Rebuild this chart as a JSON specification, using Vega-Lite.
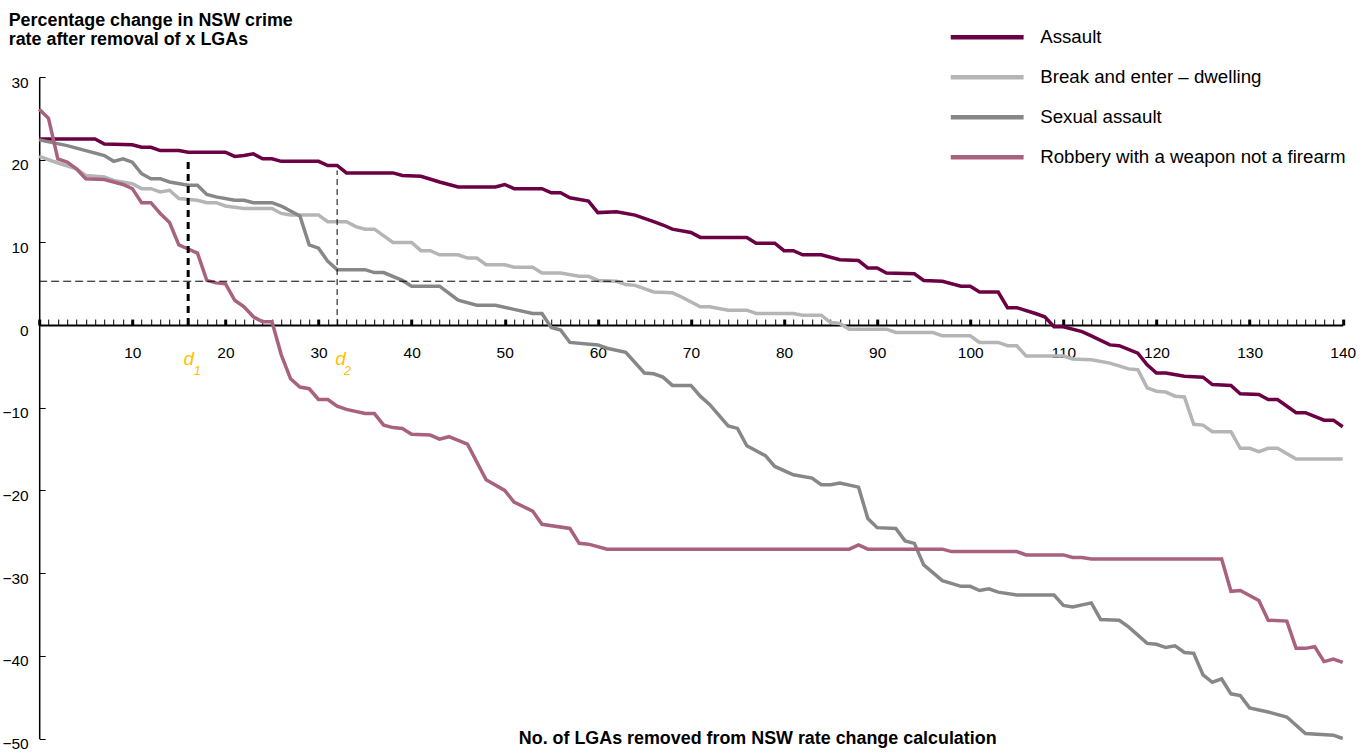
{
  "$schema": "https://vega.github.io/schema/vega-lite/v6.json",
  "width": 1303.5,
  "height": 661.5,
  "autosize": "none",
  "padding": {"left": 39.2, "top": 77, "right": 24, "bottom": 14},
  "background": "white",
  "config": {"view": {"stroke": null}, "font": "Liberation Sans"},
  "datasets": {
    "lines": [
      {"series":"Assault","x":0,"y":22.5},{"series":"Assault","x":6,"y":22.5},{"series":"Assault","x":7,"y":21.9},{"series":"Assault","x":10,"y":21.8},{"series":"Assault","x":11,"y":21.5},{"series":"Assault","x":12,"y":21.5},{"series":"Assault","x":13,"y":21.1},{"series":"Assault","x":15,"y":21.1},{"series":"Assault","x":16,"y":20.9},{"series":"Assault","x":20,"y":20.9},{"series":"Assault","x":21,"y":20.4},{"series":"Assault","x":22,"y":20.5},{"series":"Assault","x":23,"y":20.7},{"series":"Assault","x":24,"y":20.1},{"series":"Assault","x":25,"y":20.1},{"series":"Assault","x":26,"y":19.8},{"series":"Assault","x":30,"y":19.8},{"series":"Assault","x":31,"y":19.3},{"series":"Assault","x":32,"y":19.3},{"series":"Assault","x":33,"y":18.4},{"series":"Assault","x":38,"y":18.4},{"series":"Assault","x":39,"y":18.1},{"series":"Assault","x":41,"y":18.0},{"series":"Assault","x":43,"y":17.3},{"series":"Assault","x":45,"y":16.7},{"series":"Assault","x":49,"y":16.7},{"series":"Assault","x":50,"y":17.0},{"series":"Assault","x":51,"y":16.5},{"series":"Assault","x":54,"y":16.5},{"series":"Assault","x":55,"y":16.0},{"series":"Assault","x":56,"y":16.0},{"series":"Assault","x":57,"y":15.4},{"series":"Assault","x":59,"y":15.0},{"series":"Assault","x":60,"y":13.6},{"series":"Assault","x":62,"y":13.7},{"series":"Assault","x":64,"y":13.3},{"series":"Assault","x":66,"y":12.5},{"series":"Assault","x":67,"y":12.1},{"series":"Assault","x":68,"y":11.6},{"series":"Assault","x":70,"y":11.2},{"series":"Assault","x":71,"y":10.6},{"series":"Assault","x":76,"y":10.6},{"series":"Assault","x":77,"y":9.9},{"series":"Assault","x":79,"y":9.9},{"series":"Assault","x":80,"y":9.0},{"series":"Assault","x":81,"y":9.0},{"series":"Assault","x":82,"y":8.5},{"series":"Assault","x":84,"y":8.5},{"series":"Assault","x":86,"y":7.9},{"series":"Assault","x":88,"y":7.8},{"series":"Assault","x":89,"y":6.9},{"series":"Assault","x":90,"y":6.9},{"series":"Assault","x":91,"y":6.3},{"series":"Assault","x":94,"y":6.2},{"series":"Assault","x":95,"y":5.4},{"series":"Assault","x":97,"y":5.3},{"series":"Assault","x":99,"y":4.7},{"series":"Assault","x":100,"y":4.7},{"series":"Assault","x":101,"y":4.0},{"series":"Assault","x":103,"y":4.0},{"series":"Assault","x":104,"y":2.1},{"series":"Assault","x":105,"y":2.1},{"series":"Assault","x":107,"y":1.4},{"series":"Assault","x":108,"y":1.0},{"series":"Assault","x":109,"y":-0.2},{"series":"Assault","x":110,"y":-0.2},{"series":"Assault","x":112,"y":-0.8},{"series":"Assault","x":113,"y":-1.3},{"series":"Assault","x":115,"y":-2.4},{"series":"Assault","x":116,"y":-2.5},{"series":"Assault","x":118,"y":-3.4},{"series":"Assault","x":119,"y":-4.8},{"series":"Assault","x":120,"y":-5.8},{"series":"Assault","x":121,"y":-5.8},{"series":"Assault","x":123,"y":-6.2},{"series":"Assault","x":125,"y":-6.3},{"series":"Assault","x":126,"y":-7.2},{"series":"Assault","x":128,"y":-7.3},{"series":"Assault","x":129,"y":-8.3},{"series":"Assault","x":131,"y":-8.4},{"series":"Assault","x":132,"y":-9.0},{"series":"Assault","x":133,"y":-9.0},{"series":"Assault","x":135,"y":-10.6},{"series":"Assault","x":136,"y":-10.6},{"series":"Assault","x":138,"y":-11.5},{"series":"Assault","x":139,"y":-11.5},{"series":"Assault","x":140,"y":-12.3},

      {"series":"Break and enter – dwelling","x":0,"y":20.4},{"series":"Break and enter – dwelling","x":2,"y":19.6},{"series":"Break and enter – dwelling","x":4,"y":18.9},{"series":"Break and enter – dwelling","x":5,"y":18.1},{"series":"Break and enter – dwelling","x":7,"y":17.9},{"series":"Break and enter – dwelling","x":8,"y":17.5},{"series":"Break and enter – dwelling","x":10,"y":17.1},{"series":"Break and enter – dwelling","x":11,"y":16.5},{"series":"Break and enter – dwelling","x":12,"y":16.5},{"series":"Break and enter – dwelling","x":13,"y":16.1},{"series":"Break and enter – dwelling","x":14,"y":16.3},{"series":"Break and enter – dwelling","x":15,"y":15.3},{"series":"Break and enter – dwelling","x":17,"y":15.1},{"series":"Break and enter – dwelling","x":18,"y":14.8},{"series":"Break and enter – dwelling","x":19,"y":14.8},{"series":"Break and enter – dwelling","x":20,"y":14.4},{"series":"Break and enter – dwelling","x":22,"y":14.1},{"series":"Break and enter – dwelling","x":25,"y":14.1},{"series":"Break and enter – dwelling","x":26,"y":13.5},{"series":"Break and enter – dwelling","x":27,"y":13.3},{"series":"Break and enter – dwelling","x":30,"y":13.3},{"series":"Break and enter – dwelling","x":31,"y":12.5},{"series":"Break and enter – dwelling","x":33,"y":12.5},{"series":"Break and enter – dwelling","x":34,"y":11.9},{"series":"Break and enter – dwelling","x":35,"y":11.6},{"series":"Break and enter – dwelling","x":36,"y":11.6},{"series":"Break and enter – dwelling","x":38,"y":10.0},{"series":"Break and enter – dwelling","x":40,"y":10.0},{"series":"Break and enter – dwelling","x":41,"y":9.0},{"series":"Break and enter – dwelling","x":42,"y":9.0},{"series":"Break and enter – dwelling","x":43,"y":8.5},{"series":"Break and enter – dwelling","x":45,"y":8.5},{"series":"Break and enter – dwelling","x":46,"y":8.1},{"series":"Break and enter – dwelling","x":47,"y":8.1},{"series":"Break and enter – dwelling","x":48,"y":7.3},{"series":"Break and enter – dwelling","x":50,"y":7.3},{"series":"Break and enter – dwelling","x":51,"y":7.0},{"series":"Break and enter – dwelling","x":53,"y":7.0},{"series":"Break and enter – dwelling","x":54,"y":6.3},{"series":"Break and enter – dwelling","x":56,"y":6.3},{"series":"Break and enter – dwelling","x":58,"y":5.9},{"series":"Break and enter – dwelling","x":59,"y":5.9},{"series":"Break and enter – dwelling","x":60,"y":5.4},{"series":"Break and enter – dwelling","x":62,"y":5.3},{"series":"Break and enter – dwelling","x":63,"y":4.9},{"series":"Break and enter – dwelling","x":64,"y":4.8},{"series":"Break and enter – dwelling","x":66,"y":4.0},{"series":"Break and enter – dwelling","x":68,"y":3.9},{"series":"Break and enter – dwelling","x":69,"y":3.4},{"series":"Break and enter – dwelling","x":71,"y":2.2},{"series":"Break and enter – dwelling","x":72,"y":2.2},{"series":"Break and enter – dwelling","x":74,"y":1.8},{"series":"Break and enter – dwelling","x":76,"y":1.8},{"series":"Break and enter – dwelling","x":77,"y":1.4},{"series":"Break and enter – dwelling","x":81,"y":1.4},{"series":"Break and enter – dwelling","x":82,"y":1.2},{"series":"Break and enter – dwelling","x":84,"y":1.2},{"series":"Break and enter – dwelling","x":85,"y":0.3},{"series":"Break and enter – dwelling","x":86,"y":0.2},{"series":"Break and enter – dwelling","x":87,"y":-0.5},{"series":"Break and enter – dwelling","x":91,"y":-0.5},{"series":"Break and enter – dwelling","x":92,"y":-0.9},{"series":"Break and enter – dwelling","x":96,"y":-0.9},{"series":"Break and enter – dwelling","x":97,"y":-1.3},{"series":"Break and enter – dwelling","x":100,"y":-1.3},{"series":"Break and enter – dwelling","x":101,"y":-2.1},{"series":"Break and enter – dwelling","x":103,"y":-2.1},{"series":"Break and enter – dwelling","x":104,"y":-2.5},{"series":"Break and enter – dwelling","x":105,"y":-2.5},{"series":"Break and enter – dwelling","x":106,"y":-3.75},{"series":"Break and enter – dwelling","x":110,"y":-3.75},{"series":"Break and enter – dwelling","x":111,"y":-4.1},{"series":"Break and enter – dwelling","x":113,"y":-4.2},{"series":"Break and enter – dwelling","x":115,"y":-4.6},{"series":"Break and enter – dwelling","x":117,"y":-5.3},{"series":"Break and enter – dwelling","x":118,"y":-5.4},{"series":"Break and enter – dwelling","x":119,"y":-7.6},{"series":"Break and enter – dwelling","x":120,"y":-8.0},{"series":"Break and enter – dwelling","x":121,"y":-8.1},{"series":"Break and enter – dwelling","x":122,"y":-8.6},{"series":"Break and enter – dwelling","x":123,"y":-8.7},{"series":"Break and enter – dwelling","x":124,"y":-12.0},{"series":"Break and enter – dwelling","x":125,"y":-12.1},{"series":"Break and enter – dwelling","x":126,"y":-12.9},{"series":"Break and enter – dwelling","x":128,"y":-12.9},{"series":"Break and enter – dwelling","x":129,"y":-14.9},{"series":"Break and enter – dwelling","x":130,"y":-14.9},{"series":"Break and enter – dwelling","x":131,"y":-15.3},{"series":"Break and enter – dwelling","x":132,"y":-14.9},{"series":"Break and enter – dwelling","x":133,"y":-14.9},{"series":"Break and enter – dwelling","x":135,"y":-16.2},{"series":"Break and enter – dwelling","x":140,"y":-16.2},

      {"series":"Sexual assault","x":0,"y":22.4},{"series":"Sexual assault","x":3,"y":21.7},{"series":"Sexual assault","x":5,"y":21.1},{"series":"Sexual assault","x":7,"y":20.5},{"series":"Sexual assault","x":8,"y":19.8},{"series":"Sexual assault","x":9,"y":20.1},{"series":"Sexual assault","x":10,"y":19.7},{"series":"Sexual assault","x":11,"y":18.3},{"series":"Sexual assault","x":12,"y":17.7},{"series":"Sexual assault","x":13,"y":17.7},{"series":"Sexual assault","x":14,"y":17.3},{"series":"Sexual assault","x":16,"y":16.9},{"series":"Sexual assault","x":17,"y":16.9},{"series":"Sexual assault","x":18,"y":15.8},{"series":"Sexual assault","x":19,"y":15.5},{"series":"Sexual assault","x":21,"y":15.1},{"series":"Sexual assault","x":22,"y":15.1},{"series":"Sexual assault","x":23,"y":14.8},{"series":"Sexual assault","x":25,"y":14.8},{"series":"Sexual assault","x":26,"y":14.4},{"series":"Sexual assault","x":28,"y":13.2},{"series":"Sexual assault","x":29,"y":9.7},{"series":"Sexual assault","x":30,"y":9.3},{"series":"Sexual assault","x":31,"y":7.7},{"series":"Sexual assault","x":32,"y":6.7},{"series":"Sexual assault","x":35,"y":6.7},{"series":"Sexual assault","x":36,"y":6.35},{"series":"Sexual assault","x":37,"y":6.35},{"series":"Sexual assault","x":39,"y":5.4},{"series":"Sexual assault","x":40,"y":4.7},{"series":"Sexual assault","x":43,"y":4.7},{"series":"Sexual assault","x":45,"y":3.0},{"series":"Sexual assault","x":47,"y":2.4},{"series":"Sexual assault","x":49,"y":2.4},{"series":"Sexual assault","x":51,"y":1.9},{"series":"Sexual assault","x":53,"y":1.4},{"series":"Sexual assault","x":54,"y":1.4},{"series":"Sexual assault","x":55,"y":-0.3},{"series":"Sexual assault","x":56,"y":-0.6},{"series":"Sexual assault","x":57,"y":-2.1},{"series":"Sexual assault","x":60,"y":-2.4},{"series":"Sexual assault","x":61,"y":-2.8},{"series":"Sexual assault","x":63,"y":-3.3},{"series":"Sexual assault","x":65,"y":-5.8},{"series":"Sexual assault","x":66,"y":-5.9},{"series":"Sexual assault","x":67,"y":-6.3},{"series":"Sexual assault","x":68,"y":-7.3},{"series":"Sexual assault","x":70,"y":-7.3},{"series":"Sexual assault","x":71,"y":-8.6},{"series":"Sexual assault","x":72,"y":-9.6},{"series":"Sexual assault","x":74,"y":-12.2},{"series":"Sexual assault","x":75,"y":-12.5},{"series":"Sexual assault","x":76,"y":-14.6},{"series":"Sexual assault","x":78,"y":-15.8},{"series":"Sexual assault","x":79,"y":-17.1},{"series":"Sexual assault","x":81,"y":-18.1},{"series":"Sexual assault","x":83,"y":-18.5},{"series":"Sexual assault","x":84,"y":-19.3},{"series":"Sexual assault","x":85,"y":-19.3},{"series":"Sexual assault","x":86,"y":-19.1},{"series":"Sexual assault","x":88,"y":-19.6},{"series":"Sexual assault","x":89,"y":-23.4},{"series":"Sexual assault","x":90,"y":-24.5},{"series":"Sexual assault","x":92,"y":-24.6},{"series":"Sexual assault","x":93,"y":-26.1},{"series":"Sexual assault","x":94,"y":-26.4},{"series":"Sexual assault","x":95,"y":-29.0},{"series":"Sexual assault","x":97,"y":-30.9},{"series":"Sexual assault","x":99,"y":-31.6},{"series":"Sexual assault","x":100,"y":-31.6},{"series":"Sexual assault","x":101,"y":-32.1},{"series":"Sexual assault","x":102,"y":-31.9},{"series":"Sexual assault","x":103,"y":-32.3},{"series":"Sexual assault","x":105,"y":-32.65},{"series":"Sexual assault","x":109,"y":-32.65},{"series":"Sexual assault","x":110,"y":-33.9},{"series":"Sexual assault","x":111,"y":-34.1},{"series":"Sexual assault","x":113,"y":-33.6},{"series":"Sexual assault","x":114,"y":-35.6},{"series":"Sexual assault","x":116,"y":-35.7},{"series":"Sexual assault","x":117,"y":-36.5},{"series":"Sexual assault","x":119,"y":-38.5},{"series":"Sexual assault","x":120,"y":-38.6},{"series":"Sexual assault","x":121,"y":-39.0},{"series":"Sexual assault","x":122,"y":-38.8},{"series":"Sexual assault","x":123,"y":-39.6},{"series":"Sexual assault","x":124,"y":-39.7},{"series":"Sexual assault","x":125,"y":-42.3},{"series":"Sexual assault","x":126,"y":-43.2},{"series":"Sexual assault","x":127,"y":-42.8},{"series":"Sexual assault","x":128,"y":-44.6},{"series":"Sexual assault","x":129,"y":-44.8},{"series":"Sexual assault","x":130,"y":-46.3},{"series":"Sexual assault","x":132,"y":-46.8},{"series":"Sexual assault","x":134,"y":-47.4},{"series":"Sexual assault","x":136,"y":-49.4},{"series":"Sexual assault","x":139,"y":-49.6},{"series":"Sexual assault","x":140,"y":-50.0},

      {"series":"Robbery with a weapon not a firearm","x":0,"y":26.1},{"series":"Robbery with a weapon not a firearm","x":1,"y":25.0},{"series":"Robbery with a weapon not a firearm","x":2,"y":20.1},{"series":"Robbery with a weapon not a firearm","x":3,"y":19.7},{"series":"Robbery with a weapon not a firearm","x":4,"y":18.9},{"series":"Robbery with a weapon not a firearm","x":5,"y":17.7},{"series":"Robbery with a weapon not a firearm","x":7,"y":17.6},{"series":"Robbery with a weapon not a firearm","x":9,"y":17.0},{"series":"Robbery with a weapon not a firearm","x":10,"y":16.5},{"series":"Robbery with a weapon not a firearm","x":11,"y":14.8},{"series":"Robbery with a weapon not a firearm","x":12,"y":14.8},{"series":"Robbery with a weapon not a firearm","x":13,"y":13.5},{"series":"Robbery with a weapon not a firearm","x":14,"y":12.4},{"series":"Robbery with a weapon not a firearm","x":15,"y":9.7},{"series":"Robbery with a weapon not a firearm","x":16,"y":9.2},{"series":"Robbery with a weapon not a firearm","x":17,"y":8.7},{"series":"Robbery with a weapon not a firearm","x":18,"y":5.4},{"series":"Robbery with a weapon not a firearm","x":19,"y":5.1},{"series":"Robbery with a weapon not a firearm","x":20,"y":5.0},{"series":"Robbery with a weapon not a firearm","x":21,"y":3.0},{"series":"Robbery with a weapon not a firearm","x":22,"y":2.2},{"series":"Robbery with a weapon not a firearm","x":23,"y":1.0},{"series":"Robbery with a weapon not a firearm","x":24,"y":0.4},{"series":"Robbery with a weapon not a firearm","x":25,"y":0.4},{"series":"Robbery with a weapon not a firearm","x":26,"y":-3.6},{"series":"Robbery with a weapon not a firearm","x":27,"y":-6.5},{"series":"Robbery with a weapon not a firearm","x":28,"y":-7.5},{"series":"Robbery with a weapon not a firearm","x":29,"y":-7.7},{"series":"Robbery with a weapon not a firearm","x":30,"y":-9.0},{"series":"Robbery with a weapon not a firearm","x":31,"y":-9.0},{"series":"Robbery with a weapon not a firearm","x":32,"y":-9.8},{"series":"Robbery with a weapon not a firearm","x":33,"y":-10.2},{"series":"Robbery with a weapon not a firearm","x":35,"y":-10.7},{"series":"Robbery with a weapon not a firearm","x":36,"y":-10.7},{"series":"Robbery with a weapon not a firearm","x":37,"y":-12.1},{"series":"Robbery with a weapon not a firearm","x":38,"y":-12.4},{"series":"Robbery with a weapon not a firearm","x":39,"y":-12.5},{"series":"Robbery with a weapon not a firearm","x":40,"y":-13.2},{"series":"Robbery with a weapon not a firearm","x":42,"y":-13.3},{"series":"Robbery with a weapon not a firearm","x":43,"y":-13.8},{"series":"Robbery with a weapon not a firearm","x":44,"y":-13.5},{"series":"Robbery with a weapon not a firearm","x":46,"y":-14.4},{"series":"Robbery with a weapon not a firearm","x":48,"y":-18.7},{"series":"Robbery with a weapon not a firearm","x":50,"y":-20.0},{"series":"Robbery with a weapon not a firearm","x":51,"y":-21.4},{"series":"Robbery with a weapon not a firearm","x":53,"y":-22.5},{"series":"Robbery with a weapon not a firearm","x":54,"y":-24.1},{"series":"Robbery with a weapon not a firearm","x":57,"y":-24.6},{"series":"Robbery with a weapon not a firearm","x":58,"y":-26.4},{"series":"Robbery with a weapon not a firearm","x":59,"y":-26.5},{"series":"Robbery with a weapon not a firearm","x":61,"y":-27.1},{"series":"Robbery with a weapon not a firearm","x":87,"y":-27.1},{"series":"Robbery with a weapon not a firearm","x":88,"y":-26.6},{"series":"Robbery with a weapon not a firearm","x":89,"y":-27.1},{"series":"Robbery with a weapon not a firearm","x":97,"y":-27.1},{"series":"Robbery with a weapon not a firearm","x":98,"y":-27.4},{"series":"Robbery with a weapon not a firearm","x":105,"y":-27.4},{"series":"Robbery with a weapon not a firearm","x":106,"y":-27.8},{"series":"Robbery with a weapon not a firearm","x":110,"y":-27.8},{"series":"Robbery with a weapon not a firearm","x":111,"y":-28.1},{"series":"Robbery with a weapon not a firearm","x":112,"y":-28.1},{"series":"Robbery with a weapon not a firearm","x":113,"y":-28.3},{"series":"Robbery with a weapon not a firearm","x":127,"y":-28.3},{"series":"Robbery with a weapon not a firearm","x":128,"y":-32.2},{"series":"Robbery with a weapon not a firearm","x":129,"y":-32.1},{"series":"Robbery with a weapon not a firearm","x":131,"y":-33.3},{"series":"Robbery with a weapon not a firearm","x":132,"y":-35.7},{"series":"Robbery with a weapon not a firearm","x":134,"y":-35.8},{"series":"Robbery with a weapon not a firearm","x":135,"y":-39.1},{"series":"Robbery with a weapon not a firearm","x":136,"y":-39.1},{"series":"Robbery with a weapon not a firearm","x":137,"y":-38.9},{"series":"Robbery with a weapon not a firearm","x":138,"y":-40.7},{"series":"Robbery with a weapon not a firearm","x":139,"y":-40.4},{"series":"Robbery with a weapon not a firearm","x":140,"y":-40.8}
    ],
    "dmain": [{"x":16.07,"y":-4.85,"t":"d"},{"x":32.36,"y":-4.85,"t":"d"}],
    "dsub": [{"x":17.0,"y":-6.05,"t":"1"},{"x":33.1,"y":-6.05,"t":"2"}]
  },
  "layer": [
    {
      "data": {"name": "lines"},
      "mark": {"type": "line", "strokeWidth": 3.5, "interpolate": "linear"},
      "encoding": {
        "x": {
          "field": "x", "type": "quantitative",
          "scale": {"domain": [0, 140], "nice": false, "zero": false},
          "axis": {
            "orient": "bottom", "offset": -413.44, "tickCount": 140,
            "labelExpr": "datum.value % 10 === 0 && datum.value > 0 ? datum.label : ''",
            "labelOverlap": false, "labelFlush": false, "labelBound": false,
            "tickSize": -6, "tickColor": "black",
            "tickWidth": {"condition": {"test": "datum.value % 10 === 0", "value": 3}, "value": 1},
            "domainColor": "black", "domainWidth": 2,
            "labelFontSize": 15.5, "labelColor": "black", "labelPadding": 33, "labelBaseline": "middle",
            "grid": false,
            "title": "No. of LGAs removed from NSW rate change calculation",
            "titleFontSize": 17.9, "titleFontWeight": "bold", "titleColor": "black",
            "titleX": 718, "titleY": 413, "titleBaseline": "middle", "titleAlign": "center"
          }
        },
        "y": {
          "field": "y", "type": "quantitative",
          "scale": {"domain": [-50, 30], "nice": false, "zero": false},
          "axis": {
            "orient": "left", "values": [-50, -40, -30, -20, -10, 0, 10, 20, 30],
            "tickSize": -6, "tickWidth": 1, "tickColor": "black",
            "domainColor": "black", "domainWidth": 1.5,
            "labelFontSize": 15.5, "labelColor": "black", "labelPadding": 17, "labelOffset": 5,
            "labelFlush": false, "labelBound": false, "grid": false,
            "title": ["Percentage change in NSW crime", "rate after removal of x LGAs"],
            "titleAngle": 0, "titleAlign": "left", "titleBaseline": "alphabetic",
            "titleX": -31, "titleY": -52, "titleFontSize": 17.9, "titleFontWeight": "bold",
            "titleColor": "black", "titleLineHeight": 19.5
          }
        },
        "color": {
          "field": "series", "type": "nominal",
          "scale": {
            "domain": ["Assault", "Break and enter – dwelling", "Sexual assault", "Robbery with a weapon not a firearm"],
            "range": ["#6b0044", "#b5b5b5", "#878787", "#a8627e"]
          },
          "legend": {
            "orient": "none", "legendX": 909, "legendY": -59.7, "title": null,
            "symbolType": "stroke", "symbolSize": 5300, "symbolStrokeWidth": 4.5,
            "labelFontSize": 18.7, "labelColor": "black", "labelOffset": 14, "labelLimit": 0,
            "clipHeight": 40, "rowPadding": 0, "padding": 0
          }
        }
      }
    },
    {
      "data": {"values": [{"x0": 0, "x1": 94, "y": 5.3}]},
      "mark": {"type": "rule", "color": "black", "strokeWidth": 1, "strokeDash": [8, 4]},
      "encoding": {
        "x": {"field": "x0", "type": "quantitative"},
        "x2": {"field": "x1"},
        "y": {"field": "y", "type": "quantitative"}
      }
    },
    {
      "data": {"values": [{"x": 16, "y0": 0, "y1": 20.1}]},
      "mark": {"type": "rule", "color": "black", "strokeWidth": 3, "strokeDash": [7, 5]},
      "encoding": {
        "x": {"field": "x", "type": "quantitative"},
        "y": {"field": "y0", "type": "quantitative"},
        "y2": {"field": "y1"}
      }
    },
    {
      "data": {"values": [{"x": 32, "y0": 0, "y1": 18.7}]},
      "mark": {"type": "rule", "color": "black", "strokeWidth": 1, "strokeDash": [6, 4]},
      "encoding": {
        "x": {"field": "x", "type": "quantitative"},
        "y": {"field": "y0", "type": "quantitative"},
        "y2": {"field": "y1"}
      }
    },
    {
      "data": {"name": "dmain"},
      "mark": {"type": "text", "fontSize": 19, "fontStyle": "italic", "color": "#ffc000", "align": "center", "baseline": "alphabetic"},
      "encoding": {
        "x": {"field": "x", "type": "quantitative"},
        "y": {"field": "y", "type": "quantitative"},
        "text": {"field": "t"}
      }
    },
    {
      "data": {"name": "dsub"},
      "mark": {"type": "text", "fontSize": 13, "fontStyle": "italic", "color": "#ffc000", "align": "center", "baseline": "alphabetic"},
      "encoding": {
        "x": {"field": "x", "type": "quantitative"},
        "y": {"field": "y", "type": "quantitative"},
        "text": {"field": "t"}
      }
    }
  ]
}
